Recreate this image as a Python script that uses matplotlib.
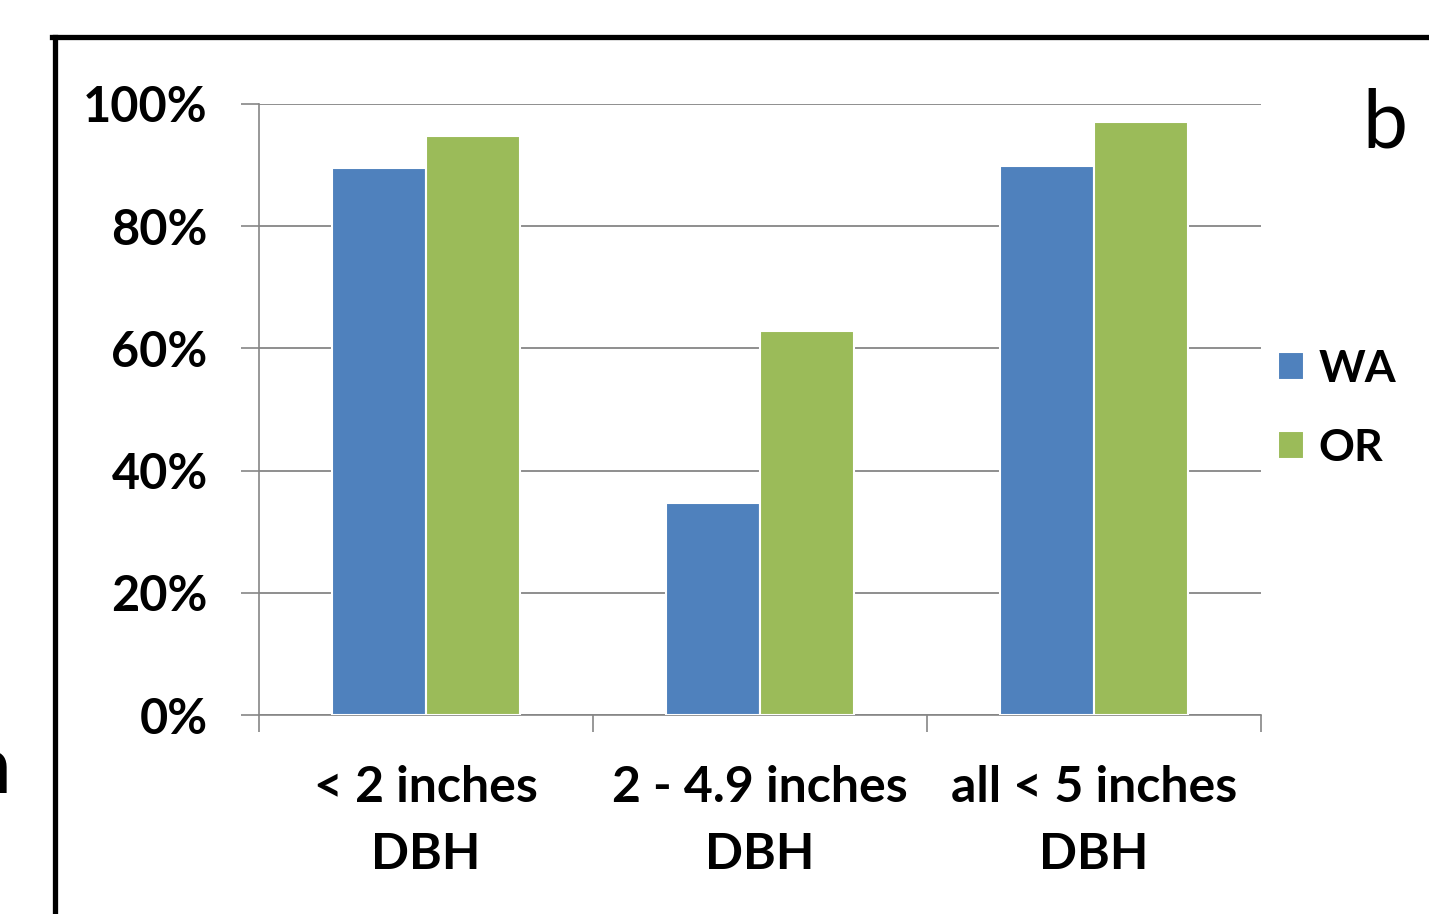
import matplotlib
matplotlib.use("Agg")
import matplotlib.pyplot as plt
from matplotlib.lines import Line2D
import numpy as np

categories = ["< 2 inches\nDBH", "2 - 4.9 inches\nDBH", "all < 5 inches\nDBH"]
series_names = ["WA", "OR"]
wa_values = [89.5, 34.7, 89.9]
or_values = [94.8, 62.8, 97.1]
y_ticks = [0, 20, 40, 60, 80, 100]
y_tick_labels = ["0%", "20%", "40%", "60%", "80%", "100%"]
colors = ["#4F81BD", "#9BBB59"]

plt.rcParams['font.family'] = ['Lato', 'DejaVu Sans']

W, H = 1429, 914
fig = plt.figure(figsize=(W / 100, H / 100), dpi=100)
fig.patch.set_facecolor("white")

ax = fig.add_axes([259 / W, 1 - 715 / H, (1261 - 259) / W, (715 - 104) / H])
x = np.arange(len(categories))
bw = 0.28
ax.bar(x - bw / 2, wa_values, bw, color=colors[0], edgecolor="white", linewidth=1.5, label=series_names[0], zorder=3)
ax.bar(x + bw / 2, or_values, bw, color=colors[1], edgecolor="white", linewidth=1.5, label=series_names[1], zorder=3)

ax.set_xlim(-0.5, 2.5)
ax.set_ylim(0, 100)
ax.set_yticks(y_ticks)
ax.set_yticklabels(y_tick_labels, fontsize=35, fontweight="bold")
ax.set_xticks([-0.5, 0.5, 1.5, 2.5])
ax.set_xticklabels([])
ax.set_xticks(x, minor=True)
ax.set_xticklabels(categories, minor=True, fontsize=36, fontweight="bold", linespacing=1.6)
ax.tick_params(axis="x", which="minor", length=0, pad=36)
ax.tick_params(axis="x", which="major", length=12, width=1.2, color="#868686", direction="out")
ax.tick_params(axis="y", length=13, width=1.2, color="#868686", direction="out", pad=24)
ax.yaxis.grid(True, color="#868686", linewidth=1.3, zorder=0)
for s in ["top", "right"]:
    ax.spines[s].set_visible(False)
ax.spines["left"].set_color("#868686")
ax.spines["bottom"].set_color("#868686")
ax.spines["left"].set_linewidth(1.2)
ax.spines["bottom"].set_linewidth(1.2)
ax.set_axisbelow(True)

leg = fig.legend(loc="upper left", bbox_to_anchor=(1278 / W, 1 - 349 / H), frameon=False,
                 prop={"size": 32, "weight": "bold"}, handlelength=0.58, handleheight=0.58,
                 handletextpad=0.33, labelspacing=0.87, borderpad=0, borderaxespad=0)

fig.text(1385 / W, 1 - 124 / H, "b", fontsize=58, ha="center", va="center")
fig.text(-34 / W, 1 - 770 / H, "n", fontsize=58, ha="left", va="center")

# outer black frame (extends past right and bottom edges)
fig.add_artist(Line2D([54.5 / W, 54.5 / W], [0, 1 - 37 / H], color="black", linewidth=3.8, transform=fig.transFigure))
fig.add_artist(Line2D([52 / W, 1.0], [1 - 37 / H, 1 - 37 / H], color="black", linewidth=3.8, transform=fig.transFigure))

fig.savefig("out.png", dpi=100)
